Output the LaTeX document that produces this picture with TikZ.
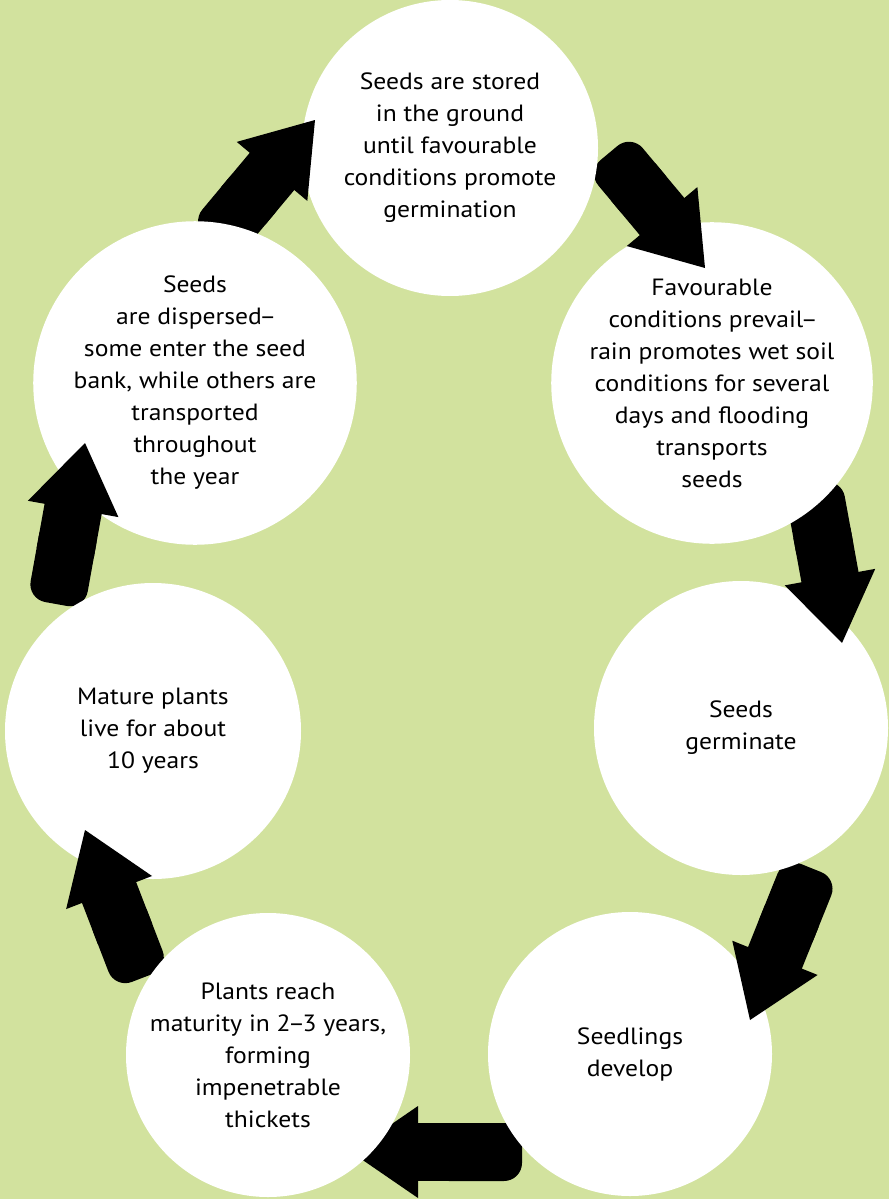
\documentclass[tikz,border=0pt]{standalone}
\usepackage{fontspec}
\setmainfont[FakeStretch=1.09]{PT Sans}
\usetikzlibrary{calc}
\definecolor{bg}{RGB}{210,226,158}
\newcommand\tdash{\kern-2.5pt–\kern-2.5pt}
\tikzset{
  stage/.style={circle, fill=white, inner sep=0pt, align=center,
    font=\fontsize{23.5}{32}\selectfont, text=black},
  arr/.style={fill=black}
}
\newcommand\blockarr[2]{%
  \coordinate (hb) at ($(#1)!67pt!(#2)$);
  \coordinate (hp) at ($(#1)!58pt!(#2)$);
  \coordinate (hm) at ($(#1)!112pt!(#2)$);
  \coordinate (hn) at ($(#1)!80pt!(#2)$);
  \fill[arr] (#1) -- ($(hb)!46pt!90:(#1)$) -- ($(hb)!46pt!-90:(#1)$) -- cycle;
  \fill[arr] ($(hp)!29pt!90:(#1)$) -- ($(hm)!29pt!90:(#1)$) -- ($(hm)!29pt!-90:(#1)$) -- ($(hp)!29pt!-90:(#1)$) -- cycle;
  \fill[arr,rounded corners=18pt] ($(hn)!29pt!90:(#1)$) -- ($(#2)!29pt!90:(#1)$) -- ($(#2)!29pt!-90:(#1)$) -- ($(hn)!29pt!-90:(#1)$) -- cycle;
}
\begin{document}
\begin{tikzpicture}[x=1pt,y=-1pt]
\fill[bg] (0,0) rectangle (889,1199);
\useasboundingbox (0,0) rectangle (889,1199);
% arrow end points (tip, tail)
\coordinate (t1) at (315,120);  \coordinate (s1) at (213,242);
\coordinate (t2) at (705,268);  \coordinate (s2) at (609,153);
\coordinate (t3) at (842,643);  \coordinate (s3) at (813,484);
\coordinate (t4) at (750,1020); \coordinate (s4) at (811,868);
\coordinate (t5) at (351,1152); \coordinate (s5) at (522,1152);
\coordinate (t6) at (85,830);   \coordinate (s6) at (142,978);
\coordinate (t7) at (85,443);   \coordinate (s7) at (56,604);
% layering: each arrow lies over its target and under its source
\blockarr{t5}{s5}
\node[stage, minimum size=284pt] (br) at (630,1054)
  {Seedlings\\develop};
\blockarr{t4}{s4}
\node[stage, minimum size=294pt] (rm) at (741,728)
  {Seeds\\germinate};
\blockarr{t3}{s3}
\node[stage, minimum size=300pt] (ru) at (712,383)
  {Favourable\\conditions prevail\tdash\\rain promotes wet soil\\conditions for several\\days and flooding\\transports\\seeds};
\blockarr{t2}{s2}
\node[stage, minimum size=296pt] (top) at (450,148)
  {Seeds are stored\\in the ground\\until favourable\\conditions promote\\germination};
\blockarr{t1}{s1}
\node[stage, minimum size=300pt] (lu) at (195,383)
  {Seeds\\are dispersed\tdash\\some enter the seed\\bank, while others are\\transported\\throughout\\the year};
\blockarr{t7}{s7}
\node[stage, minimum size=296pt] (lm) at (153,731)
  {Mature plants\\live for about\\10 years};
\blockarr{t6}{s6}
\node[stage, minimum size=284pt] (bl) at (268,1055)
  {Plants reach\\maturity in 2\tdash 3 years,\\forming\\impenetrable\\thickets};
\end{tikzpicture}
\end{document}
